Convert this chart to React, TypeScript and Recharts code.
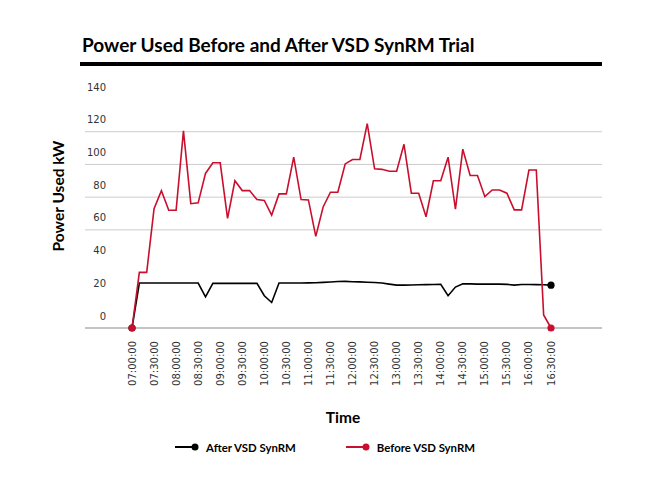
import React from "react"
import { LineChart, Line, XAxis, YAxis, ReferenceLine } from "recharts"

// 10-minute readings, 07:00 to 16:30
const times = [
  "07:00:00", "07:10:00", "07:20:00", "07:30:00", "07:40:00", "07:50:00",
  "08:00:00", "08:10:00", "08:20:00", "08:30:00", "08:40:00", "08:50:00",
  "09:00:00", "09:10:00", "09:20:00", "09:30:00", "09:40:00", "09:50:00",
  "10:00:00", "10:10:00", "10:20:00", "10:30:00", "10:40:00", "10:50:00",
  "11:00:00", "11:10:00", "11:20:00", "11:30:00", "11:40:00", "11:50:00",
  "12:00:00", "12:10:00", "12:20:00", "12:30:00", "12:40:00", "12:50:00",
  "13:00:00", "13:10:00", "13:20:00", "13:30:00", "13:40:00", "13:50:00",
  "14:00:00", "14:10:00", "14:20:00", "14:30:00", "14:40:00", "14:50:00",
  "15:00:00", "15:10:00", "15:20:00", "15:30:00", "15:40:00", "15:50:00",
  "16:00:00", "16:10:00", "16:20:00", "16:30:00",
]

const afterVsd = [
  0, 27.5, 27.5, 27.5, 27.5, 27.5, 27.5, 27.5, 27.5, 27.5,
  19, 27.3, 27.3, 27.3, 27.3, 27.3, 27.3, 27.3, 19.7, 15.6,
  27.5, 27.5, 27.5, 27.5, 27.6, 27.7, 27.9, 28.1, 28.4, 28.5,
  28.3, 28.2, 28, 27.8, 27.5, 26.8, 26.2, 26.2, 26.3, 26.4,
  26.5, 26.6, 26.7, 19.7, 25, 27, 27, 26.8, 26.8, 26.8,
  26.8, 26.7, 26.2, 26.6, 26.6, 26.5, 26.4, 26.2,
]

const beforeVsd = [
  0, 34, 34, 73, 84, 72, 72, 120.5, 76, 76.5,
  94.5, 101, 101, 67, 90, 84, 84, 78.5, 78, 69,
  82, 82, 104.5, 78.5, 78.3, 56, 74, 83, 83, 100.3,
  103, 103, 125, 97.3, 97, 95.8, 95.8, 112.3, 82.4, 82.4,
  68, 90, 90, 104.4, 72.6, 109.3, 93.2, 93.2, 80.3, 84.4,
  84.4, 82.4, 72.2, 72.2, 96.6, 96.6, 8, 0,
]

const yTicks = [0, 20, 40, 60, 80, 100, 120, 140]
const gridValues = [60, 80, 100, 120]

const series = [
  { key: "after", name: "After VSD SynRM", color: "#000000" },
  { key: "before", name: "Before VSD SynRM", color: "#c8102e" },
]

const data = times.map((time, i) => ({ time, after: afterVsd[i], before: beforeVsd[i] }))

const tickFont = { fontFamily: "'DejaVu Sans', sans-serif", fontSize: 10, fill: "#333" }
const boldFont = "Lato, 'Open Sans', sans-serif"

// dots only on first and last point
const endDot = (color: string) => (props: any) => {
  const { cx, cy, index } = props
  if (index !== 0 && index !== data.length - 1) return <g key={`d-${index}`} />
  return <circle key={`d-${index}`} cx={cx} cy={cy} r={3.6} fill={color} stroke="none" />
}

const YTick = (props: any) => {
  const { x, y, payload } = props
  return (
    <text x={x + 21} y={y - 12} dy="0.35em" textAnchor="end" {...tickFont}>
      {payload.value}
    </text>
  )
}

const XTick = (props: any) => {
  const { x, y, payload } = props
  return (
    <text
      x={x}
      y={y + 13}
      dy="0.35em"
      textAnchor="end"
      transform={`rotate(-90, ${x}, ${y + 13})`}
      {...tickFont}
    >
      {payload.value}
    </text>
  )
}

export default function App() {
  return (
    <div style={{ position: "absolute", left: 0, top: 0, width: 654, height: 477, background: "#fff" }}>
      <div
        style={{
          position: "absolute",
          left: 82,
          top: 33,
          fontFamily: boldFont,
          fontWeight: 700,
          fontSize: 19,
          lineHeight: "24px",
          color: "#000",
          whiteSpace: "nowrap",
        }}
      >
        Power Used Before and After VSD SynRM Trial
      </div>
      <div style={{ position: "absolute", left: 80, top: 62, width: 522, height: 4, background: "#000" }} />

      <LineChart
        width={654}
        height={477}
        data={data}
        margin={{ top: 99, right: 52, bottom: 0, left: 45 }}
        style={{ position: "absolute", left: 0, top: 0 }}
      >
        <XAxis
          dataKey="time"
          interval={2}
          axisLine={false}
          tickLine={false}
          tickSize={0}
          tickMargin={0}
          height={149}
          padding={{ left: 47, right: 51 }}
          tick={<XTick />}
        />
        <YAxis
          domain={[0, 140]}
          ticks={yTicks}
          axisLine={false}
          tickLine={false}
          tickSize={0}
          tickMargin={0}
          width={40}
          tick={<YTick />}
        />
        {gridValues.map((v) => (
          <ReferenceLine key={v} y={v} stroke="#cccccc" strokeWidth={1} />
        ))}
        <ReferenceLine y={0} stroke="#8a8a8a" strokeWidth={1.2} />
        {series.map((s) => (
          <Line
            key={s.key}
            type="linear"
            dataKey={s.key}
            name={s.name}
            stroke={s.color}
            strokeWidth={1.6}
            dot={endDot(s.color)}
            activeDot={false}
            isAnimationActive={false}
          />
        ))}
      </LineChart>

      <div
        style={{
          position: "absolute",
          left: 58,
          top: 196,
          transform: "translate(-50%, -50%) rotate(-90deg)",
          fontFamily: boldFont,
          fontWeight: 700,
          fontSize: 15.5,
          whiteSpace: "nowrap",
          color: "#000",
        }}
      >
        Power Used kW
      </div>
      <div
        style={{
          position: "absolute",
          left: 343,
          top: 417,
          transform: "translate(-50%, -50%)",
          fontFamily: boldFont,
          fontWeight: 700,
          fontSize: 15.5,
          color: "#000",
        }}
      >
        Time
      </div>

      <div style={{ position: "absolute", left: 175, top: 439, display: "flex", alignItems: "center", height: 16 }}>
        {series.map((s, i) => (
          <div key={s.key} style={{ display: "flex", alignItems: "center", marginLeft: i === 0 ? 0 : 50 }}>
            <svg width={24} height={8}>
              <line x1={0} y1={4} x2={20} y2={4} stroke={s.color} strokeWidth={2} />
              <circle cx={20} cy={4} r={3.5} fill={s.color} />
            </svg>
            <span
              style={{
                marginLeft: 7,
                fontFamily: boldFont,
                fontWeight: 700,
                fontSize: 11.4,
                color: "#000",
                whiteSpace: "nowrap",
              }}
            >
              {s.name}
            </span>
          </div>
        ))}
      </div>
    </div>
  )
}
